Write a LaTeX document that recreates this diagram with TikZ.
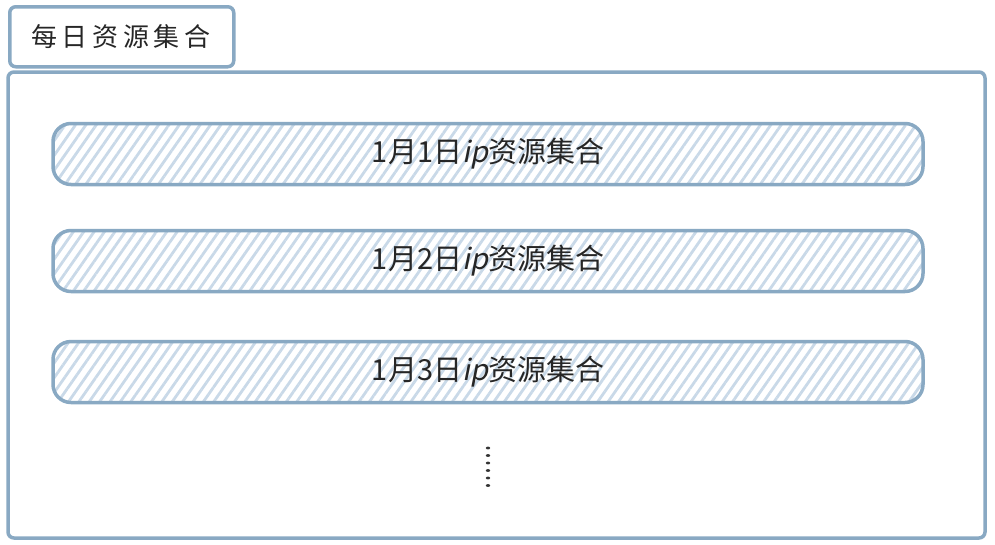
\documentclass[tikz,border=0pt]{standalone}
\usepackage{fontspec}
\newfontfamily\cjk[ItalicFont={Noto Sans CJK SC},ItalicFeatures={FakeSlant=0.2}]{Noto Sans CJK SC}
\newfontfamily\cjktitle[LetterSpace=18]{Noto Sans CJK SC}
\usetikzlibrary{patterns.meta}
\definecolor{edge}{HTML}{89A9C3}
\definecolor{hatch}{HTML}{C9D9E8}
\begin{document}
\begin{tikzpicture}[x=1pt,y=-1pt,
  frame/.style={draw=edge,line width=3.5pt,rounded corners=6pt},
  bar/.style={draw=edge,line width=3.5pt,rounded corners=18pt,
    pattern={Lines[angle=55,distance=8.5pt,line width=2.8pt]},pattern color=hatch,
    minimum width=870pt,minimum height=61pt,inner sep=0pt},
  bartext/.style={font=\cjk\fontsize{29}{32}\selectfont,text=black!85}]
\useasboundingbox (0,0) rectangle (995,544);
\node[frame,minimum width=224pt,minimum height=60pt,anchor=north west,inner sep=0pt,
  font=\cjktitle\fontsize{26}{30}\selectfont,text=black!85] (title) at (8,5) {\hspace{-2pt}每日资源集合};
\draw[frame] (8,72) rectangle (985,538);
\node[bar] (b1) at (488,154) {};
\node[bar] (b2) at (488,261) {};
\node[bar] (b3) at (488,372) {};
\node[bartext] (t1) at (b1) {1月1日\textit{ip}资源集合};
\node[bartext] (t2) at (b2) {1月2日\textit{ip}资源集合};
\node[bartext] (t3) at (b3) {1月3日\textit{ip}资源集合};
\foreach \i in {0,...,5}{
  \fill[black!80] (488,448+\i*7.5) ellipse (2.2pt and 1.4pt);
}
\end{tikzpicture}
\end{document}
